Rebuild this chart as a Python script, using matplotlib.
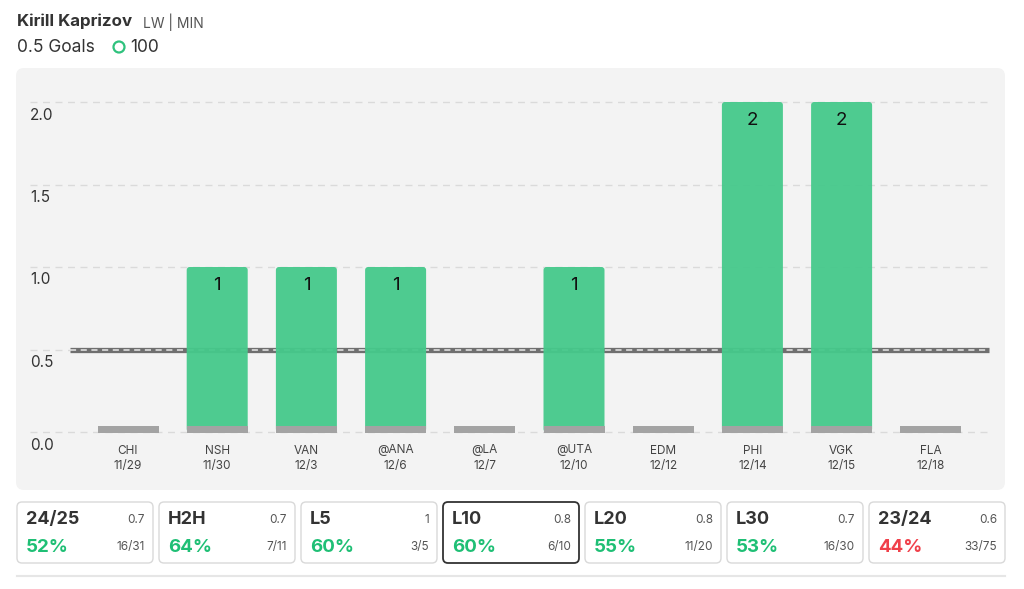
import matplotlib.pyplot as plt
from matplotlib.patches import FancyBboxPatch, Circle
from matplotlib import transforms

plt.rcParams['font.family'] = ['Inter', 'DejaVu Sans']

teams = ['CHI', 'NSH', 'VAN', '@ANA', '@LA', '@UTA', 'EDM', 'PHI', 'VGK', 'FLA']
dates = ['11/29', '11/30', '12/3', '12/6', '12/7', '12/10', '12/12', '12/14', '12/15', '12/18']
goals = [0, 1, 1, 1, 0, 1, 0, 2, 2, 0]
line_value = 0.5
yticks = [0.0, 0.5, 1.0, 1.5, 2.0]

card_titles = ['24/25', 'H2H', 'L5', 'L10', 'L20', 'L30', '23/24']
card_avgs = ['0.7', '0.7', '1', '0.8', '0.8', '0.7', '0.6']
card_pcts = [52, 64, 60, 60, 55, 53, 44]
card_fracs = ['16/31', '7/11', '3/5', '6/10', '11/20', '16/30', '33/75']
selected_card = 'L10'

green = '#45c98b'
stub = '#a3a3a3'

W, H = 1024, 589
fig = plt.figure(figsize=(W / 100, H / 100), dpi=100)

# background layer in pixel coordinates
bg = fig.add_axes([0, 0, 1, 1], zorder=0)
bg.set_xlim(0, W)
bg.set_ylim(H, 0)
bg.axis('off')

bg.add_patch(FancyBboxPatch((16, 68), 989, 422, boxstyle='round,pad=0,rounding_size=8',
                            fc='#f3f3f3', ec='none'))

bg.text(17, 21, 'Kirill Kaprizov', fontsize=12.2, fontweight='bold', color='#333333', va='center')
bg.text(143, 22, 'LW | MIN', fontsize=10, color='#555555', va='center')
bg.text(17, 47, '0.5 Goals', fontsize=12.5, color='#333333', va='center')
bg.add_patch(Circle((119, 47), 5.5, fc='none', ec='#2fc27d', lw=1.6))
bg.text(130, 47, '100', fontsize=12.5, color='#333333', va='center')

# stat cards
for i, (t, a, p, f) in enumerate(zip(card_titles, card_avgs, card_pcts, card_fracs)):
    x0 = 17 + i * 142
    sel = t == selected_card
    bg.add_patch(FancyBboxPatch((x0, 502), 136, 61, boxstyle='round,pad=0,rounding_size=5',
                                fc='white', ec='#333333' if sel else '#d9d9d9', lw=1.3 if sel else 1.0))
    bg.text(x0 + 9, 520, t, fontsize=13, fontweight='bold', color='#333333', va='center')
    bg.text(x0 + 128, 520, a, fontsize=8.5, color='#555555', va='center', ha='right')
    pc = '#1fbf75' if p >= 50 else '#f0404a'
    bg.text(x0 + 9, 547, f'{p}%', fontsize=13.5, fontweight='bold', color=pc, va='center')
    bg.text(x0 + 128, 547, f, fontsize=8.5, color='#555555', va='center', ha='right')
bg.plot([17, 1005], [576, 576], color='#e6e6e6', lw=1.5)

# chart
ax = fig.add_axes([30 / W, 1 - 432 / H, 960 / W, 330 / H], zorder=1)
ax.patch.set_alpha(0)
for s in ax.spines.values():
    s.set_visible(False)
step = 89.2
x_left = -(128 - 30) / step
x_right = (990 - 128) / step
ax.set_xlim(x_left, x_right)
ax.set_ylim(0, 2)

xs = list(range(len(teams)))
for v in yticks:
    ax.plot([x_left, x_right], [v, v], color='#dadada', lw=1, dashes=(5, 4), zorder=1, clip_on=False)
    off = transforms.offset_copy(ax.transData, fig=fig, x=0, y=-13, units='dots')
    ax.text(x_left, v, f'{v:.1f}', transform=off, fontsize=11, color='#333333', va='center', ha='left')

# threshold line
ax.hlines(line_value, -0.65, 9.65, color='#6f6f6f', lw=3.8, zorder=2)
ax.hlines(line_value, -0.65, 9.65, color='#e8e8e8', lw=1.1, linestyles=(0, (4, 3)), zorder=2.1)

bw = 61 / step
bars = ax.bar(xs, goals, width=bw, color=green, alpha=0.95, zorder=3)
# swap plain rectangles for rounded ones
for r in bars:
    if r.get_height() > 0:
        ax.add_patch(FancyBboxPatch((r.get_x(), r.get_y()), r.get_width(), r.get_height(),
                                    boxstyle=f'round,pad=0,rounding_size={3 / step}',
                                    mutation_aspect=step / 165, fc=green, ec='none',
                                    alpha=0.95, zorder=3))
    r.set_visible(False)
stub_h = 7 / 165
ax.bar(xs, [stub_h] * len(xs), bottom=-0.006, width=bw, color=stub, zorder=4, clip_on=False)
for x, g in zip(xs, goals):
    if g > 0:
        ax.text(x, g - 0.11, str(g), ha='center', va='center', fontsize=13.5, color='#111111', zorder=5)

ax.set_xticks(xs)
ax.set_xticklabels([f'{t}\n{d}' for t, d in zip(teams, dates)], fontsize=8.5, color='#444444',
                   linespacing=1.35)
ax.tick_params(axis='x', length=0, pad=9)
ax.set_yticks([])

fig.savefig('out.png', dpi=100)
